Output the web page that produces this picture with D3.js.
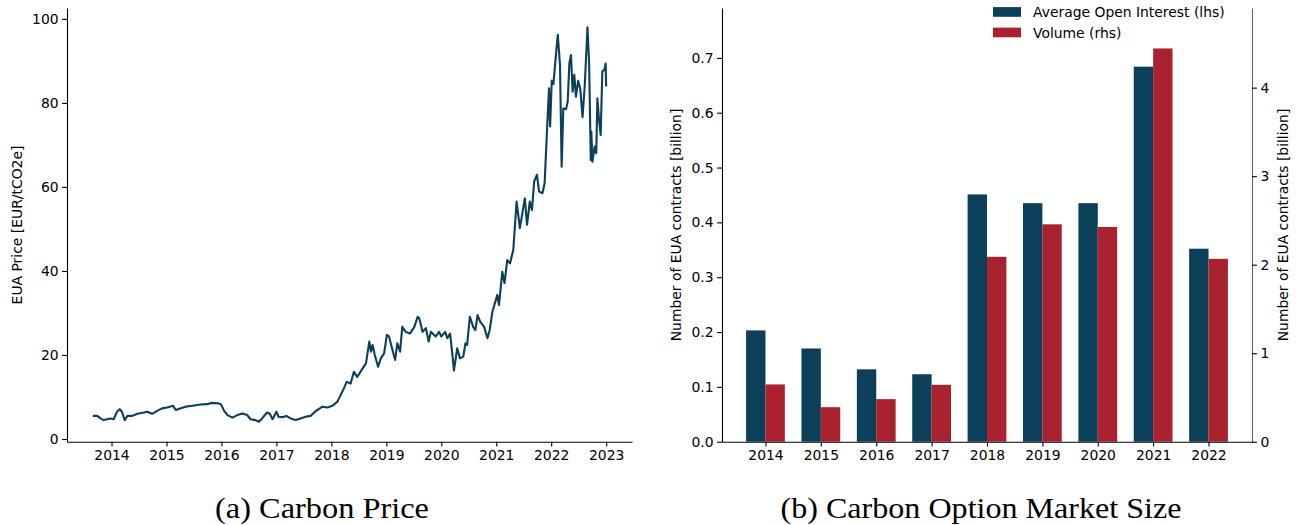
<!DOCTYPE html>
<html>
<head>
<meta charset="utf-8">
<script src="https://cdn.jsdelivr.net/npm/d3@7"></script>
<style>
  body { margin:0; background:#fff; }
  svg text { font-family: "DejaVu Sans", sans-serif; }
</style>
</head>
<body>
<svg></svg>
<script>
// EUA price (decimal year, EUR/tCO2e)
var priceDates = [2013.66,2013.74,2013.80,2013.86,2013.92,2013.98,2014.04,2014.10,2014.15,2014.19,
  2014.24,2014.29,2014.38,2014.47,2014.59,2014.65,2014.74,2014.83,2014.92,2015.01,
  2015.12,2015.17,2015.26,2015.35,2015.47,2015.62,2015.74,2015.83,2015.93,2015.99,
  2016.05,2016.11,2016.20,2016.29,2016.38,2016.47,2016.53,2016.62,2016.68,2016.74,
  2016.83,2016.88,2016.93,2017.00,2017.04,2017.11,2017.18,2017.26,2017.35,2017.44,
  2017.53,2017.62,2017.72,2017.84,2017.93,2018.02,2018.11,2018.17,2018.23,2018.28,
  2018.35,2018.41,2018.47,2018.57,2018.63,2018.69,2018.72,2018.75,2018.79,2018.85,
  2018.90,2018.96,2019.01,2019.05,2019.08,2019.16,2019.20,2019.25,2019.29,2019.35,
  2019.43,2019.51,2019.57,2019.60,2019.66,2019.72,2019.77,2019.81,2019.90,2019.96,
  2020.00,2020.07,2020.11,2020.16,2020.20,2020.23,2020.29,2020.34,2020.40,2020.44,
  2020.47,2020.52,2020.58,2020.62,2020.66,2020.71,2020.78,2020.84,2020.88,2020.93,
  2021.02,2021.05,2021.11,2021.15,2021.20,2021.25,2021.31,2021.37,2021.43,2021.49,
  2021.52,2021.56,2021.61,2021.65,2021.69,2021.74,2021.78,2021.84,2021.88,2021.92,
  2021.96,2021.98,2022.01,2022.04,2022.09,2022.12,2022.16,2022.19,2022.22,2022.27,
  2022.30,2022.33,2022.36,2022.39,2022.42,2022.45,2022.49,2022.53,2022.57,2022.61,
  2022.66,2022.69,2022.72,2022.73,2022.75,2022.79,2022.82,2022.84,2022.87,2022.90,
  2022.93,2022.97,2022.99,2023.00];
var priceValues = [5.5,5.5,4.9,4.5,4.7,4.9,4.7,6.5,7.1,6.5,
  4.5,5.5,5.5,6.0,6.3,6.5,6.0,6.7,7.3,7.5,
  7.9,6.9,7.3,7.7,7.9,8.2,8.3,8.6,8.5,8.3,
  6.7,5.7,5.1,5.7,6.1,5.7,4.7,4.5,4.1,4.9,
  6.3,6.0,4.7,6.5,5.3,5.2,5.5,4.9,4.5,4.9,
  5.3,5.5,6.7,7.7,7.5,7.9,8.9,10.5,12.1,13.6,
  13.2,16.0,14.8,16.8,18.0,23.2,20.8,22.4,20.0,17.2,
  19.2,20.4,24.8,24.4,22.8,18.8,22.8,20.8,26.7,25.5,
  25.1,26.7,29.1,28.7,25.5,26.4,23.2,25.5,24.4,25.5,
  24.4,25.5,24.0,25.1,20.4,16.3,21.6,19.2,19.6,22.8,
  22.4,29.1,26.7,25.9,29.5,27.9,26.7,24.0,25.9,30.3,
  34.3,31.9,39.8,37.1,42.6,41.8,45.0,56.5,50.2,54.9,
  57.3,51.0,56.5,54.5,61.3,62.9,58.9,58.5,60.9,72.4,
  83.5,74.4,85.3,84.5,92.1,96.2,89.0,64.8,78.7,78.5,
  80.3,89.4,91.4,82.7,86.7,81.5,85.3,83.3,76.6,84.1,
  98.0,89.4,66.4,73.2,66.0,69.6,68.0,81.1,76.0,72.4,
  87.5,87.9,89.4,83.9];

// option market size
var years = ["2014","2015","2016","2017","2018","2019","2020","2021","2022"];
var openInterest = [0.203,0.170,0.132,0.123,0.451,0.435,0.435,0.684,0.352]; // lhs, billion
var volume = [0.647,0.390,0.481,0.643,2.089,2.456,2.426,4.443,2.066];       // rhs, billion

var priceTicks = [0,20,40,60,80,100];
var yearTicks = [2014,2015,2016,2017,2018,2019,2020,2021,2022,2023];
var leftTicks = [0,0.1,0.2,0.3,0.4,0.5,0.6,0.7];
var rightTicks = [0,1,2,3,4];
var seriesNames = ["Average Open Interest (lhs)","Volume (rhs)"];

var blue = "#0b3f5a";
var red = "#aa2130";
var fs = 13.9;

var svg = d3.select("svg")
  .attr("width",1298)
  .attr("height",525);

var styleAxis = function(g)
{
  g.selectAll("path").attr("stroke","#000").attr("stroke-width",1.1);
  g.selectAll("line").attr("stroke","#000").attr("stroke-width",1.1);
  g.selectAll("text").attr("font-size",fs).attr("fill","#000")
    .attr("font-family","DejaVu Sans");
};

// ---------------- (a) carbon price ----------------
var xP = d3.scaleLinear().domain([2013.19,2023.47]).range([67,632]);
var yP = d3.scaleLinear().domain([-0.64,102.6]).range([441.7,8]);

var pts = priceDates.map(function(d,i){ return {t:d, p:priceValues[i]}; });

var line = d3.line()
  .x(function(d){ return xP(d.t); })
  .y(function(d){ return yP(d.p); });

svg.append("path")
  .datum(pts)
  .attr("d",line)
  .attr("fill","none")
  .attr("stroke",blue)
  .attr("stroke-width",2.1)
  .attr("stroke-linejoin","round");

svg.append("g")
  .attr("transform","translate(0,441.7)")
  .call(d3.axisBottom(xP).tickValues(yearTicks).tickFormat(d3.format("d"))
    .tickSizeInner(4.9).tickSizeOuter(0).tickPadding(3.5))
  .call(styleAxis);

svg.append("g")
  .attr("transform","translate(67,0)")
  .call(d3.axisLeft(yP).tickValues(priceTicks).tickFormat(d3.format("d"))
    .tickSizeInner(4.9).tickSizeOuter(0).tickPadding(3.5))
  .call(styleAxis);

svg.append("text")
  .attr("transform","translate(22,225) rotate(-90)")
  .attr("text-anchor","middle")
  .attr("font-size",fs)
  .text("EUA Price [EUR/tCO2e]");

// ---------------- (b) option market size ----------------
var xB = d3.scaleLinear().domain([-0.785,8.785]).range([722,1252]);
var yL = d3.scaleLinear().domain([0,0.791]).range([441.7,8]);
var yR = d3.scaleLinear().domain([0,4.9]).range([441.7,8]);
var bw = 0.35;

svg.append("g").selectAll("rect.oi")
  .data(openInterest)
  .enter().append("rect")
  .attr("class","oi")
  .attr("x",function(d,i){ return xB(i-bw); })
  .attr("width",xB(bw)-xB(0))
  .attr("y",function(d){ return yL(d); })
  .attr("height",function(d){ return yL(0)-yL(d); })
  .attr("fill",blue);

svg.append("g").selectAll("rect.vol")
  .data(volume)
  .enter().append("rect")
  .attr("class","vol")
  .attr("x",function(d,i){ return xB(i); })
  .attr("width",xB(bw)-xB(0))
  .attr("y",function(d){ return yR(d); })
  .attr("height",function(d){ return yR(0)-yR(d); })
  .attr("fill",red);

svg.append("g")
  .attr("transform","translate(0,441.7)")
  .call(d3.axisBottom(xB).tickValues(d3.range(years.length))
    .tickFormat(function(i){ return years[i]; })
    .tickSizeInner(4.9).tickSizeOuter(0).tickPadding(3.5))
  .call(styleAxis);

svg.append("g")
  .attr("transform","translate(722,0)")
  .call(d3.axisLeft(yL).tickValues(leftTicks).tickFormat(d3.format(".1f"))
    .tickSizeInner(4.9).tickSizeOuter(0).tickPadding(3.5))
  .call(styleAxis);

var rAxis = svg.append("g")
  .attr("transform","translate(1252,0)")
  .call(d3.axisRight(yR).tickValues(rightTicks).tickFormat(d3.format("d"))
    .tickSizeInner(4.9).tickSizeOuter(0).tickPadding(3.5))
  .call(styleAxis);
rAxis.select("path").attr("stroke","#666");

svg.append("text")
  .attr("transform","translate(681,225) rotate(-90)")
  .attr("text-anchor","middle")
  .attr("font-size",fs)
  .text("Number of EUA contracts [billion]");

svg.append("text")
  .attr("transform","translate(1283,225) rotate(-90)")
  .attr("text-anchor","middle")
  .attr("dominant-baseline","central")
  .attr("font-size",fs)
  .text("Number of EUA contracts [billion]");

// legend, no frame
var leg = svg.append("g").attr("transform","translate(993,12)");
seriesNames.forEach(function(name,i)
{
  leg.append("rect")
    .attr("x",0).attr("y",i*20.5-4.9)
    .attr("width",28).attr("height",9.7)
    .attr("fill",i==0 ? blue : red);
  leg.append("text")
    .attr("x",40).attr("y",i*20.5)
    .attr("dominant-baseline","central")
    .attr("font-size",fs)
    .text(name);
});

// sub-captions
svg.append("text")
  .attr("x",322).attr("y",518)
  .attr("text-anchor","middle")
  .attr("font-family","Liberation Serif")
  .attr("font-size",29)
  .attr("textLength",214)
  .attr("lengthAdjust","spacingAndGlyphs")
  .style("font-family","'Liberation Serif', serif")
  .text("(a) Carbon Price");

svg.append("text")
  .attr("x",981).attr("y",518)
  .attr("text-anchor","middle")
  .attr("font-size",29)
  .attr("textLength",401)
  .attr("lengthAdjust","spacingAndGlyphs")
  .style("font-family","'Liberation Serif', serif")
  .text("(b) Carbon Option Market Size");
</script>
</body>
</html>
